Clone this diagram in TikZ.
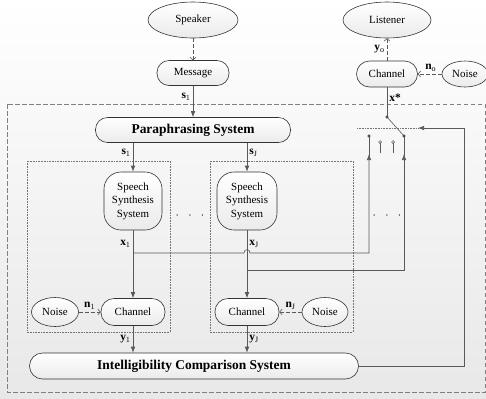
\documentclass[tikz,border=0pt]{standalone}
\usepackage{fontspec}
\setmainfont{Liberation Serif}
\usetikzlibrary{shapes.geometric,arrows.meta}

\begin{document}
\begin{tikzpicture}[x=1bp,y=-1bp,
  >={Latex[length=6bp,width=4.5bp]},
  every path/.style={draw=black!65,line width=0.6pt},
  sys/.style={draw=black!80,rounded corners=12bp,top color=white,bottom color=black!8,
    font=\fontsize{11}{13.5}\selectfont,inner sep=1pt},
  blob/.style={ellipse,draw=black!80,top color=white,bottom color=black!8,
    font=\fontsize{11}{13.5}\selectfont,inner sep=1pt},
  big/.style={font=\fontsize{13.5}{16}\selectfont\bfseries},
  weak/.style={dash pattern=on 4bp off 2bp,-{Straight Barb[length=2.5bp,width=6bp]}},
  lbl/.style={font=\fontsize{11.5}{13}\selectfont,inner sep=2pt,text=black},
  term/.style={fill=white,draw=black!70,line width=0.5pt},
  pin/.style={fill=black!70,draw=black!70,line width=0.5pt}]
  \useasboundingbox[top color=white,bottom color=black!9,draw=none] (0,0) rectangle (486,398);
  \draw[dash pattern=on 4.5bp off 2.5bp,black!50,line width=0.8pt] (7,104) rectangle (485,392);
  \draw[densely dotted,black!55,line width=0.7pt] (27,161) rectangle (170,332) (210,161) rectangle (353,332);

  \node[blob,minimum width=90bp,minimum height=36bp] (speaker) at (193,20) {Speaker};
  \node[sys,minimum width=72bp,minimum height=25bp] (msg) at (193,73) {Message};
  \node[blob,minimum width=88bp,minimum height=36bp] (listener) at (387,20) {Listener};
  \node[sys,minimum width=61bp,minimum height=26bp,rounded corners=13bp] (chano) at (387,74) {Channel};
  \node[blob,minimum width=46bp,minimum height=26bp] (noiseo) at (465,74) {Noise};
  \node[sys,big,minimum width=195bp,minimum height=25bp] (para) at (193,130) {Paraphrasing System};
  \node[sys,align=center,minimum width=58bp,minimum height=58bp,rounded corners=17bp] (synth1) at (133,201) {Speech\\Synthesis\\System};
  \node[sys,align=center,minimum width=60bp,minimum height=58bp,rounded corners=17bp] (synthJ) at (247,201) {Speech\\Synthesis\\System};
  \node[sys,minimum width=64bp,minimum height=27bp,rounded corners=13bp] (chan1) at (133,312) {Channel};
  \node[blob,minimum width=47bp,minimum height=29bp] (noise1) at (55,312) {Noise};
  \node[sys,minimum width=64bp,minimum height=27bp,rounded corners=13bp] (chanJ) at (247,312) {Channel};
  \node[blob,minimum width=46bp,minimum height=29bp] (noiseJ) at (325,312) {Noise};
  \node[sys,big,minimum width=329bp,minimum height=26bp,rounded corners=13bp] (ics) at (194,366) {Intelligibility Comparison System};
  \node[lbl] (dots1) at (190,216) {$\cdot\;\;\cdot\;\;\cdot$};
  \node[lbl] (dots2) at (387,216) {$\cdot\;\;\cdot\;\;\cdot$};

  % top: speaker, listener
  \draw[weak] (speaker) -- (msg);
  \draw[->] (msg) -- node[lbl,left,pos=.35] {$\mathbf{s}_1$} (para);
  \draw[weak] (chano) -- node[lbl,left] {$\mathbf{y}_\mathrm{o}$} (listener);
  \draw[weak] (noiseo) -- node[lbl,above,xshift=1bp] {$\mathbf{n}_\mathrm{o}$} (chano);

  % the J branches
  \draw[->] (para.south -| synth1) -- node[lbl,left,pos=.35] {$\mathbf{s}_1$} (synth1);
  \draw[->] (para.south -| synthJ) -- node[lbl,right,pos=.35] {$\mathbf{s}_\mathrm{J}$} (synthJ);
  \draw[->] (synth1) -- node[lbl,left,pos=.2] {$\mathbf{x}_1$} (chan1);
  \draw[->] (synthJ) -- node[lbl,right,pos=.2] {$\mathbf{x}_\mathrm{J}$} (chanJ);
  \draw[weak] (noise1) -- node[lbl,above] {$\mathbf{n}_1$} (chan1);
  \draw[weak] (noiseJ) -- node[lbl,above] {$\mathbf{n}_\mathrm{J}$} (chanJ);
  \draw[->] (chan1) -- node[lbl,left] {$\mathbf{y}_1$} (ics.north -| chan1);
  \draw[->] (chanJ) -- node[lbl,right] {$\mathbf{y}_\mathrm{J}$} (ics.north -| chanJ);

  % switch
  \coordinate (pivot) at (387,117);
  \coordinate (t1) at (369,136);
  \coordinate (t2) at (380,142);
  \coordinate (t3) at (393,142);
  \coordinate (t4) at (404,136);
  \coordinate (x1split) at (133,253);
  \coordinate (xJsplit) at (247,270);
  \draw (chano) -- node[lbl,right,pos=.35] {\bfseries x*} (pivot);
  \draw[densely dotted,black!55] (357,128) -- (418,128);
  \draw (pivot) -- (t4);
  \draw (t2) -- ++(0,11) (t3) -- ++(0,11);
  \draw[->] (x1split) -- (244,253) .. controls (244,248.5) and (250,248.5) .. (250,253) -- (369,253) -- (369,154);
  \draw (369,156) -- (t1);
  \draw[->] (xJsplit) -| (404,154);
  \draw (404,156) -- (t4);
  \draw[->] (ics.east) -- (464,366) -- (464,128) -- (418,128);
  \foreach \t in {pivot,t1,t4}
    \draw[pin] (\t) circle (1.3bp);
  \foreach \t in {t2,t3}
    \draw[term] (\t) circle (1.4bp);
\end{tikzpicture}
\end{document}
